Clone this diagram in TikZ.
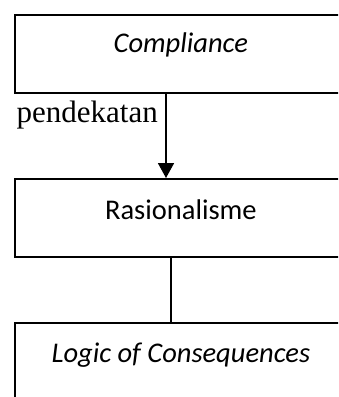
\documentclass[tikz,border=0pt]{standalone}
\usepackage{fontspec}
\setmainfont{Carlito}
\newfontfamily\timesfont{Liberation Serif}
\usetikzlibrary{arrows.meta,positioning}
\begin{document}
\begin{tikzpicture}[x=1pt,y=-1pt,
  box/.style={draw=black,line width=1.8pt,minimum width=332pt,minimum height=78pt,inner sep=0pt,anchor=north west},
  lbl/.style={font=\fontsize{28.5}{30}\selectfont,inner sep=0pt,anchor=center},
  conn/.style={draw=black,line width=1.8pt},
]
\useasboundingbox (0,0) rectangle (338,397);
\clip (0,0) rectangle (338,397);
\node[box] (c) at (14,14) {};
\node[box] (r) at (14,178) {};
\node[box] (l) at (14,322) {};
\node[lbl] (ct) at ([yshift=-31pt]c.north) {\textit{Compliance}};
\node[lbl] (rt) at ([yshift=-32pt]r.north) {Rasionalisme};
\node[lbl] (lt) at ([yshift=-33pt]l.north) {\textit{Logic of Consequences}};
\coordinate (ax) at (166,0);
\coordinate (bx) at (171,0);
\draw[conn,-{Triangle[length=15pt,width=16pt]}] (c.south -| ax) -- (r.north -| ax);
\draw[draw=black,line width=1.2pt] (r.south -| bx) -- (l.north -| bx);
\node[font=\timesfont\fontsize{31}{33}\selectfont,inner sep=0pt,anchor=base east] (p) at (158,122) {pendekatan};
\end{tikzpicture}
\end{document}
